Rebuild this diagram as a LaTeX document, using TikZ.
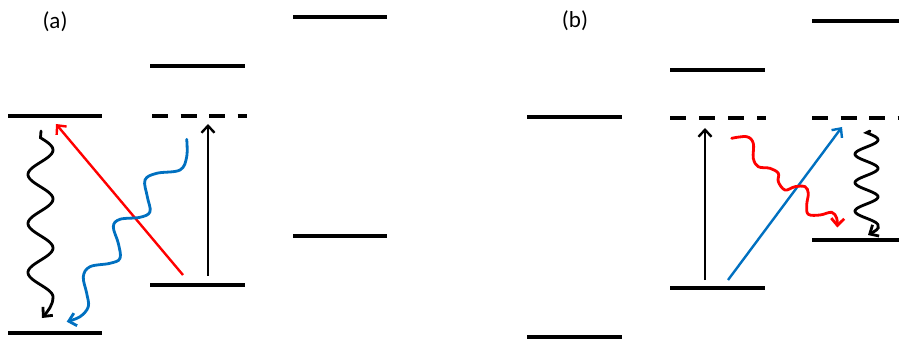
\documentclass[tikz,border=0pt]{standalone}
\usepackage{fontspec}
\setmainfont{Carlito}
\usetikzlibrary{arrows.meta}
\definecolor{myred}{RGB}{255,0,0}
\definecolor{myblue}{RGB}{0,112,192}
\tikzset{
  level/.style={line width=4.2pt},
  dlevel/.style={line width=4.2pt, dash pattern=on 16pt off 12.5pt},
  tip/.style={-{Straight Barb[length=7pt,width=13pt]}},
  straw/.style={tip, line width=2.4pt},
  wave/.style={tip, line width=2.8pt, line cap=round},
  lab/.style={font=\fontsize{23}{26}\selectfont, inner sep=0pt}
}
\begin{document}
\begin{tikzpicture}[x=1pt,y=-1pt]
\useasboundingbox (0,0) rectangle (899,347);
% ---------- panel (a) ----------
\node[lab] (la) at (55,22) {(a)};
\coordinate (a1l) at (8,116);   \coordinate (a1r) at (102,116);
\coordinate (a0l) at (8,333);   \coordinate (a0r) at (102,333);
\coordinate (a4l) at (150,66);  \coordinate (a4r) at (245,66);
\coordinate (avl) at (152,116); \coordinate (avr) at (247,116);
\coordinate (a2l) at (150,285); \coordinate (a2r) at (245,285);
\coordinate (a5l) at (293,17);  \coordinate (a5r) at (387,17);
\coordinate (a3l) at (293,236); \coordinate (a3r) at (387,236);
\draw[level] (a1l) -- (a1r);
\draw[level] (a0l) -- (a0r);
\draw[level] (a4l) -- (a4r);
\draw[dlevel] (avl) -- (avr);
\draw[level] (a2l) -- (a2r);
\draw[level] (a5l) -- (a5r);
\draw[level] (a3l) -- (a3r);
\coordinate (ars) at (183,275); \coordinate (are) at (56,124);
\draw[straw, myred] (ars) -- (are);
\coordinate (aks) at (208,276); \coordinate (ake) at (208,124);
\draw[straw] (aks) -- (ake);
\coordinate (aws) at (41,131); \coordinate (awe) at (42,318);
\draw[wave] (aws) -- plot[domain=137.75:297.25, samples=120] ({40.5+12.5*sin(7.34694*(\x-137.75))},\x)
  .. controls (53,305) and (48,311) .. (awe);
\draw[wave, myblue] plot[smooth, tension=0.6] coordinates {
 (186.7,139.3) (186.7,156.7) (180,170) (156.7,173.3) (145,180) (147.3,196.7)
 (150,211.7) (140,217.3) (120,219.3) (113.3,226.7) (118.3,243.3) (120,258.3)
 (110,263.3) (90,266.7) (83.3,276.7) (86.7,293.3) (88.3,306.7) (80,316.7) (66.7,321.7)};
% ---------- panel (b) ----------
\node[lab] (lb) at (575,21) {(b)};
\coordinate (b1l) at (527,117); \coordinate (b1r) at (622,117);
\coordinate (b0l) at (527,337); \coordinate (b0r) at (622,337);
\coordinate (b4l) at (670,70);  \coordinate (b4r) at (765,70);
\coordinate (bvl) at (670,118); \coordinate (bvr) at (766,118);
\coordinate (b2l) at (670,288); \coordinate (b2r) at (765,288);
\coordinate (b5l) at (812,21);  \coordinate (b5r) at (899,21);
\coordinate (bwl) at (812,118); \coordinate (bwr) at (899,118);
\coordinate (b3l) at (812,240); \coordinate (b3r) at (899,240);
\draw[level] (b1l) -- (b1r);
\draw[level] (b0l) -- (b0r);
\draw[level] (b4l) -- (b4r);
\draw[dlevel, dash pattern=on 16pt off 13pt] (bvl) -- (bvr);
\draw[level] (b2l) -- (b2r);
\draw[level] (b5l) -- (b5r);
\draw[dlevel, dash pattern=on 16pt off 12.5pt] (bwl) -- (bwr);
\draw[level] (b3l) -- (b3r);
\coordinate (bks) at (705,280); \coordinate (bke) at (705,128);
\draw[straw] (bks) -- (bke);
\coordinate (bbs) at (728,280); \coordinate (bbe) at (842,127);
\draw[straw, myblue] (bbs) -- (bbe);
\coordinate (bws) at (870,131); \coordinate (bwe) at (868,235);
\draw[wave] (bws) -- plot[domain=132.75:225.5, samples=120] ({866.5+11.5*sin(12.63158*(\x-132.75))},\x)
  .. controls (880,229) and (874,231.5) .. (bwe);
\draw[wave, myred] plot[smooth, tension=0.6] coordinates {
 (731.7,138.3) (746.7,136.7) (753.3,143.3) (753.3,158.3) (758.3,166.7) (770,168.3)
 (778.3,173.3) (778.3,181.7) (785,190) (795,186.7) (805,186.7) (808.3,193.3)
 (806.7,205) (808.3,214.3) (820,215) (831.7,212.3) (836.7,218.3) (837.3,227.5)};
\end{tikzpicture}
\end{document}
